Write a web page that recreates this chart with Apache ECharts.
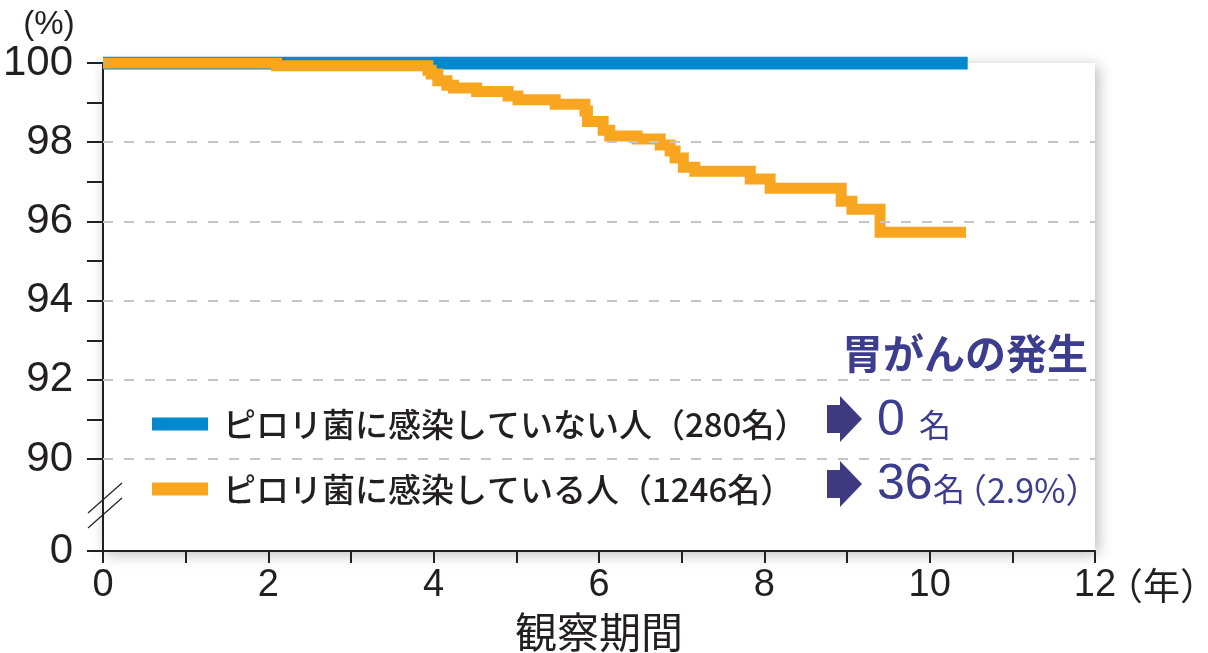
<!DOCTYPE html>
<html>
<head>
<meta charset="utf-8">
<script src="https://cdn.jsdelivr.net/npm/echarts@6/dist/echarts.min.js"></script>
<style>
html,body{margin:0;padding:0;background:#fff;}
#chart{width:1208px;height:653px;}
</style>
</head>
<body>
<div id="chart"></div>
<script>
// ---- data ----
const seriesNames = ['ピロリ菌に感染していない人（280名）', 'ピロリ菌に感染している人（1246名）'];
const negativeData = [[0, 100], [10.46, 100]];
const positiveData = [
  [0, 100], [2.1, 99.93], [3.93, 99.82], [3.97, 99.72], [4.05, 99.55], [4.16, 99.44],
  [4.24, 99.37], [4.52, 99.28], [4.9, 99.17], [5.02, 99.07], [5.47, 98.96],
  [5.83, 98.79], [5.86, 98.52], [6.05, 98.3], [6.13, 98.16], [6.46, 98.08],
  [6.74, 97.93], [6.86, 97.78], [6.92, 97.6], [7.02, 97.37], [7.16, 97.27],
  [7.83, 97.07], [8.07, 96.84], [8.93, 96.51], [9.06, 96.31], [9.4, 95.73],
  [10.44, 95.73]
];
const yLabelValues = [87.68, 90, 92, 94, 96, 98, 100];   // 87.68 = broken-axis "0"
const yTickValues = [87.68, 90, 91, 92, 93, 94, 95, 96, 97, 98, 99, 100];
const gridValues = [90, 92, 94, 96, 98];
const yBreakValue = 87.68;
const xMin = 0, xMax = 12, xInterval = 1;
const yUnit = '(%)';
const xUnit = '（年）';
const xName = '観察期間';
const resultTitle = '胃がんの発生';
const resultNeg = ['0', '名'];
const resultPos = ['36', '名', '（2.9%）'];

const BLUE = '#0088cf';
const ORANGE = '#f8a51f';
const INK = '#231f20';
const PURPLE = '#3c3d8e';
const ARROW = '#3f3a80';
const JP = 'Noto Sans CJK JP';
const NUM = 'Liberation Sans';

const chart = echarts.init(document.getElementById('chart'), null, {renderer: 'canvas'});

function arrow(cy) {
  return {
    type: 'polygon', z: 10, silent: true,
    shape: {points: [[827, cy - 14], [840, cy - 14], [840, cy - 23], [862, cy], [840, cy + 23], [840, cy + 14], [827, cy + 14]]},
    style: {fill: ARROW}
  };
}
function txt(x, y, text, size, family, color, weight, align) {
  return {
    type: 'text', x: x, y: y, z: 10, silent: true,
    style: {text: text, fontSize: size, fontFamily: family, fontWeight: weight || 'normal', fill: color, verticalAlign: 'middle', align: align || 'left'}
  };
}

const option = {
  animation: false,
  backgroundColor: '#fff',
  grid: {
    show: true, left: 103, right: 113, top: 63, bottom: 102,
    backgroundColor: '#fff', borderWidth: 0,
    shadowBlur: 14, shadowColor: 'rgba(0,0,0,0.28)', shadowOffsetX: 3, shadowOffsetY: 3,
    outerBoundsMode: 'none'
  },
  legend: {
    orient: 'vertical', left: 147, top: 399, itemGap: 25,
    itemWidth: 56, itemHeight: 13, icon: 'rect', selectedMode: false,
    data: seriesNames,
    textStyle: {color: INK, fontSize: 33, fontFamily: JP, fontWeight: 500, lineHeight: 40, padding: [0, 0, 0, 10]}
  },
  xAxis: {
    type: 'value', min: xMin, max: xMax, interval: xInterval,
    name: xName, nameLocation: 'middle', nameGap: 60,
    nameTextStyle: {color: INK, fontSize: 42, fontFamily: JP},
    axisLine: {onZero: false, lineStyle: {color: INK, width: 2}},
    axisTick: {show: true, length: 12, lineStyle: {color: INK, width: 2}},
    axisLabel: {
      color: INK, fontSize: 38, fontFamily: NUM, margin: 16,
      formatter: v => (v % 2 === 0 ? String(v) : '')
    },
    splitLine: {show: false}
  },
  yAxis: {
    type: 'value', min: yBreakValue, max: 100,
    axisLine: {show: true, lineStyle: {color: INK, width: 2}},
    axisTick: {show: true, length: 16, customValues: yTickValues, lineStyle: {color: INK, width: 2}},
    axisLabel: {
      color: INK, fontSize: 42, fontFamily: NUM, margin: 30, customValues: yLabelValues,
      formatter: v => (v < 89 ? '0' : String(Math.round(v)))
    },
    splitLine: {show: false}
  },
  series: [
    {
      name: seriesNames[0], type: 'line', data: negativeData, step: 'end',
      showSymbol: false, symbol: 'none', z: 3, silent: true,
      color: BLUE, itemStyle: {color: BLUE},
      lineStyle: {color: BLUE, width: 13, cap: 'butt', join: 'miter'},
      markLine: {
        silent: true, symbol: 'none', label: {show: false},
        lineStyle: {color: '#c4c4c8', width: 2, type: [10, 11]},
        data: gridValues.map(v => ({yAxis: v}))
      }
    },
    {
      name: seriesNames[1], type: 'line', data: positiveData, step: 'end',
      showSymbol: false, symbol: 'none', z: 4, silent: true,
      color: ORANGE, itemStyle: {color: ORANGE},
      lineStyle: {color: ORANGE, width: 11, cap: 'butt', join: 'miter'}
    }
  ],
  graphic: [
    txt(49, 25, yUnit, 33, NUM, INK, 'normal', 'center'),
    txt(1106, 586, xUnit, 37, JP, INK),
    {type: 'line', shape: {x1: 88, y1: 513, x2: 122, y2: 483}, style: {stroke: INK, lineWidth: 1.2}, z: 20},
    {type: 'line', shape: {x1: 88, y1: 528, x2: 122, y2: 498}, style: {stroke: INK, lineWidth: 1.2}, z: 20},
    txt(842, 353, resultTitle, 41, JP, PURPLE, 'bold'),
    arrow(419),
    arrow(484),
    txt(877, 421, resultNeg[0], 50, NUM, PURPLE),
    txt(919, 425, resultNeg[1], 32, JP, PURPLE),
    txt(877, 485, resultPos[0], 50, NUM, PURPLE),
    txt(933, 489, resultPos[1], 32, JP, PURPLE),
    txt(953, 490, resultPos[2], 34, JP, PURPLE)
  ]
};
chart.setOption(option);
</script>
</body>
</html>
